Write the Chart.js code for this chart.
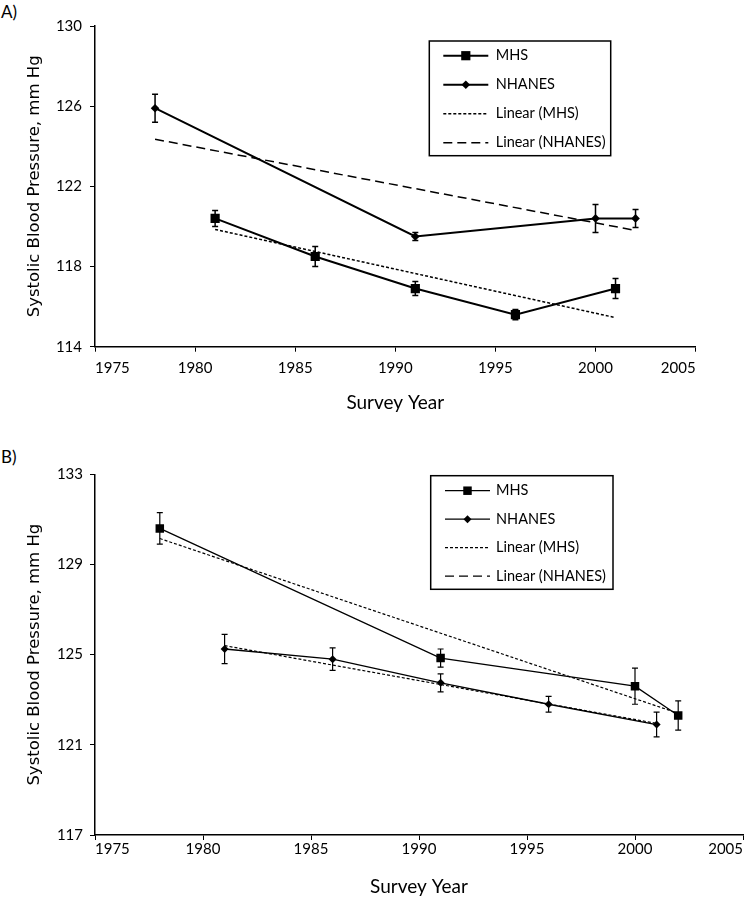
<!DOCTYPE html>
<html>
<head>
<meta charset="utf-8">
<script src="https://cdn.jsdelivr.net/npm/chart.js@4.4.0/dist/chart.umd.min.js"></script>
<style>
  body { margin: 0; background: #fff; width: 749px; height: 899px; position: relative; overflow: hidden; }
  canvas { position: absolute; left: 0; }
  #chartA { top: 0; }
  #chartB { top: 440px; }
  .tag { position: absolute; left: 1px; font: 17px Lato; line-height: 17px; color: #000; }
</style>
</head>
<body>
<div class="tag" style="top:3px">A)</div>
<canvas id="chartA" width="749" height="430"></canvas>
<div class="tag" style="top:448px">B)</div>
<canvas id="chartB" width="749" height="459"></canvas>
<script>
// Panel A
var yearsMhsA = [1981, 1986, 1991, 1996, 2001];
var sbpMhsA = [120.4, 118.5, 116.9, 115.6, 116.9];
var errMhsA = [0.4, 0.5, 0.35, 0.25, 0.5];
var yearsNhanesA = [1978, 1991, 2000, 2002];
var sbpNhanesA = [125.9, 119.5, 120.4, 120.4];
var errNhanesA = [0.7, 0.2, 0.7, 0.45];
var trendYearsMhsA = [1981, 2001];
var trendMhsA = [119.85, 115.45];
var trendYearsNhanesA = [1978, 2002];
var trendNhanesA = [124.35, 119.8];

// Panel B
var yearsMhsB = [1978, 1991, 2000, 2002];
var sbpMhsB = [130.6, 124.85, 123.6, 122.3];
var errMhsB = [0.7, 0.4, 0.8, 0.65];
var yearsNhanesB = [1981, 1986, 1991, 1996, 2001];
var sbpNhanesB = [125.25, 124.8, 123.75, 122.8, 121.9];
var errNhanesB = [0.65, 0.5, 0.4, 0.35, 0.55];
var trendYearsMhsB = [1978, 2002];
var trendMhsB = [130.15, 122.4];
var trendYearsNhanesB = [1981, 2001];
var trendNhanesB = [125.4, 121.95];

var xTicks = [1975, 1980, 1985, 1990, 1995, 2000, 2005];
var yTicksA = [114, 118, 122, 126, 130];
var yTicksB = [117, 121, 125, 129, 133];

var seriesNames = ['MHS', 'NHANES', 'Linear (MHS)', 'Linear (NHANES)'];

function pts(xs, ys) {
    return xs.map(function(x, i) { return { x: x, y: ys[i] }; });
}

// dibuja las barras de error con las escalas del grafico
var errorBars = {
    id: 'errorBars',
    afterDatasetsDraw: function(chart, args, o) {
        var ctx = chart.ctx;
        var yScale = chart.scales.y;
        chart.data.datasets.forEach(function(ds, i) {
            if (!ds.errors) return;
            var meta = chart.getDatasetMeta(i);
            ctx.save();
            ctx.strokeStyle = '#000';
            ctx.lineWidth = o.lineWidth;
            meta.data.forEach(function(p, j) {
                var v = ds.data[j].y, e = ds.errors[j];
                var top = yScale.getPixelForValue(v + e);
                var bot = yScale.getPixelForValue(v - e);
                ctx.beginPath();
                ctx.moveTo(p.x, top); ctx.lineTo(p.x, bot);
                ctx.moveTo(p.x - o.cap, top); ctx.lineTo(p.x + o.cap, top);
                ctx.moveTo(p.x - o.cap, bot); ctx.lineTo(p.x + o.cap, bot);
                ctx.stroke();
            });
            ctx.restore();
        });
    }
};

// leyenda con marco, estilo Excel
var boxLegend = {
    id: 'boxLegend',
    afterDraw: function(chart, args, o) {
        var ctx = chart.ctx;
        ctx.save();
        ctx.fillStyle = '#fff';
        ctx.fillRect(o.x, o.y, o.w, o.h);
        ctx.strokeStyle = '#000';
        ctx.lineWidth = 1.5;
        ctx.strokeRect(o.x, o.y, o.w, o.h);
        ctx.fillStyle = '#000';
        ctx.font = '14.5px Lato';
        ctx.textBaseline = 'middle';
        chart.data.datasets.forEach(function(ds, i) {
            var cy = o.y + o.first + i * o.step;
            ctx.beginPath();
            ctx.setLineDash(ds.legendDash || ds.borderDash || []);
            ctx.lineWidth = ds.borderWidth;
            ctx.moveTo(o.x + o.lineStart, cy);
            ctx.lineTo(o.x + o.lineEnd, cy);
            ctx.stroke();
            ctx.setLineDash([]);
            if (ds.pointRadius > 0) {
                Chart.helpers.drawPoint(ctx, { pointStyle: ds.pointStyle, radius: ds.pointRadius, rotation: 0, borderWidth: 0 },
                    o.x + (o.lineStart + o.lineEnd) / 2, cy);
            }
            ctx.fillText(ds.label, o.x + o.textX, cy);
        });
        ctx.restore();
    }
};

function makeChart(id, p) {
    var ctx = document.getElementById(id).getContext('2d');
    var data = {
        datasets: [{
            label: seriesNames[0],
            data: pts(p.yearsMhs, p.sbpMhs),
            errors: p.errMhs,
            borderColor: '#000', backgroundColor: '#000',
            borderWidth: p.lw, pointStyle: 'rect', pointRadius: p.rectR, pointBorderWidth: 0
        }, {
            label: seriesNames[1],
            data: pts(p.yearsNhanes, p.sbpNhanes),
            errors: p.errNhanes,
            borderColor: '#000', backgroundColor: '#000',
            borderWidth: p.lw, pointStyle: 'rectRot', pointRadius: p.diaR, pointBorderWidth: 0
        }, {
            label: seriesNames[2],
            data: pts(p.trendYearsMhs, p.trendMhs),
            borderColor: '#000', borderWidth: p.tw, borderDash: [3, 2], pointRadius: 0
        }, {
            label: seriesNames[3],
            data: pts(p.trendYearsNhanes, p.trendNhanes),
            borderColor: '#000', borderWidth: p.tw, borderDash: p.nhanesDash, legendDash: [9, 5], pointRadius: 0
        }]
    };

    var options = {
        responsive: false,
        animation: false,
        layout: { padding: { top: p.top, right: p.right, left: 0, bottom: 0 } },
        plugins: {
            legend: { display: false },
            tooltip: { enabled: false },
            errorBars: { lineWidth: p.ew, cap: 3 },
            boxLegend: p.legend
        },
        scales: {
            x: {
                type: 'linear',
                min: xTicks[0], max: xTicks[xTicks.length - 1],
                afterBuildTicks: function(s) { s.ticks = xTicks.map(function(v) { return { value: v }; }); },
                afterFit: function(s) { s.height = p.xHeight; },
                grid: { drawOnChartArea: false, color: '#000', tickLength: 5, lineWidth: 1 },
                border: { color: '#000', width: 1.5 },
                ticks: { color: '#000', font: { family: 'Lato', size: 15 }, padding: p.xPad, align: 'inner', maxRotation: 0,
                         callback: function(v) { return String(v); } },
                title: { display: true, text: 'Survey Year', color: '#000',
                         font: { family: 'Lato', size: 19 }, padding: { top: 0, bottom: p.xTitlePad } }
            },
            y: {
                min: p.yTicks[0], max: p.yTicks[p.yTicks.length - 1],
                afterBuildTicks: function(s) { s.ticks = p.yTicks.map(function(v) { return { value: v }; }); },
                afterFit: function(s) { s.width = 95; },
                grid: { drawOnChartArea: false, color: '#000', tickLength: 5, lineWidth: 1 },
                border: { color: '#000', width: 1.5 },
                ticks: { color: '#000', font: { family: 'Lato', size: 15 }, padding: p.yPad },
                title: { display: true, text: 'Systolic Blood Pressure, mm Hg', color: '#000',
                         font: { family: 'DejaVu Sans', size: 16.5 }, padding: { top: 25, bottom: 0 } }
            }
        }
    };

    return new Chart(ctx, { type: 'line', data: data, options: options, plugins: [errorBars, boxLegend] });
}

makeChart('chartA', {
    yearsMhs: yearsMhsA, sbpMhs: sbpMhsA, errMhs: errMhsA,
    yearsNhanes: yearsNhanesA, sbpNhanes: sbpNhanesA, errNhanes: errNhanesA,
    trendYearsMhs: trendYearsMhsA, trendMhs: trendMhsA,
    trendYearsNhanes: trendYearsNhanesA, trendNhanes: trendNhanesA,
    yTicks: yTicksA,
    lw: 2, tw: 1.5, ew: 1.5, rectR: 6.5, diaR: 4.3, nhanesDash: [9, 5],
    top: 26, right: 53.4, xHeight: 83.3, xPad: 7, yPad: 8, xTitlePad: 15.6,
    legend: { x: 429.3, y: 41, w: 181.4, h: 114.7, first: 14.7, step: 29, lineStart: 14, lineEnd: 59, textX: 66.4 }
});

makeChart('chartB', {
    yearsMhs: yearsMhsB, sbpMhs: sbpMhsB, errMhs: errMhsB,
    yearsNhanes: yearsNhanesB, sbpNhanes: sbpNhanesB, errNhanes: errNhanesB,
    trendYearsMhs: trendYearsMhsB, trendMhs: trendMhsB,
    trendYearsNhanes: trendYearsNhanesB, trendNhanes: trendNhanesB,
    yTicks: yTicksB,
    lw: 1.3, tw: 1.2, ew: 1.2, rectR: 6, diaR: 4, nhanesDash: [3, 2],
    top: 34.3, right: 0, xHeight: 64, xPad: 0, yPad: 7, xTitlePad: 1,
    legend: { x: 430.7, y: 35.7, w: 182.3, h: 113.6, first: 15, step: 28.5, lineStart: 14.3, lineEnd: 59.3, textX: 65.3 }
});
</script>
</body>
</html>
